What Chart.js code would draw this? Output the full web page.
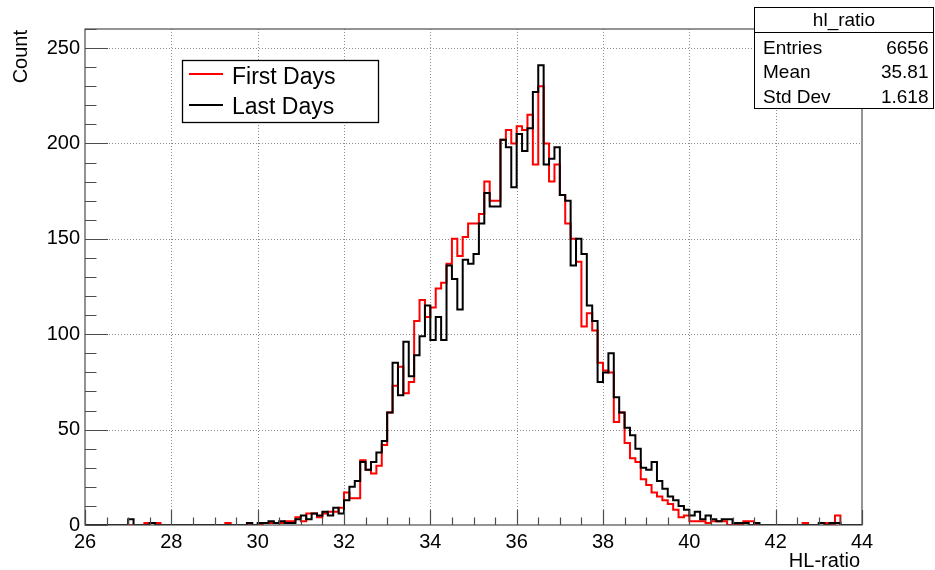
<!DOCTYPE html>
<html>
<head>
<meta charset="utf-8">
<title>hl_ratio</title>
<script src="https://cdn.jsdelivr.net/npm/chart.js@4/dist/chart.umd.min.js"></script>
<style>
  html, body { margin: 0; padding: 0; background: #ffffff; }
  #wrap { width: 935px; height: 570px; position: relative; }
</style>
</head>
<body>
<div id="wrap"><canvas id="c" width="935" height="570"></canvas></div>
<script>
// Histogram binning: 144 bins of width 0.125 from 26 to 44
const binLow = 26;
const binWidth = 0.125;

// Bin contents, First Days (red)
const firstDays = [
  0, 0, 0, 0, 0, 0, 0, 0, 0, 0,
  0, 1, 1, 1, 0, 0, 0, 0, 0, 0,
  0, 0, 0, 0, 0, 0, 1, 0, 0, 0,
  0, 0, 0, 1, 1, 1, 1, 2, 2, 4,
  2, 6, 6, 4, 6, 7, 7, 9, 17, 14,
  14, 34, 29, 27, 31, 42, 59, 73, 83, 69,
  75, 107, 118, 109, 114, 124, 127, 137, 150, 141,
  151, 158, 158, 163, 180, 170, 170, 202, 207, 200,
  209, 207, 215, 189, 230, 200, 180, 189, 173, 158,
  150, 138, 104, 111, 102, 85, 81, 80, 54, 59,
  43, 35, 33, 24, 21, 17, 15, 13, 11, 8,
  4, 5, 2, 2, 2, 1, 2, 2, 2, 0,
  0, 0, 2, 2, 0, 0, 0, 0, 0, 0,
  0, 0, 0, 1, 0, 0, 1, 1, 0, 5,
  0, 0, 0, 0
];

// Bin contents, Last Days (black)
const lastDays = [
  0, 0, 0, 0, 0, 0, 0, 0, 3, 0,
  0, 0, 1, 0, 0, 0, 0, 0, 0, 0,
  0, 0, 0, 0, 0, 0, 0, 0, 0, 0,
  1, 0, 1, 1, 2, 1, 2, 1, 1, 3,
  5, 3, 6, 5, 7, 5, 9, 6, 13, 20,
  23, 33, 29, 33, 38, 44, 59, 85, 68, 96,
  78, 89, 99, 115, 97, 109, 97, 136, 129, 113,
  139, 137, 142, 158, 174, 167, 167, 202, 198, 177,
  205, 196, 208, 227, 241, 189, 192, 198, 173, 170,
  136, 150, 142, 115, 107, 75, 80, 90, 67, 59,
  51, 47, 40, 30, 29, 33, 23, 19, 15, 13,
  10, 8, 5, 7, 3, 5, 3, 2, 3, 3,
  1, 1, 1, 0, 1, 0, 0, 0, 0, 0,
  0, 0, 0, 0, 0, 0, 1, 0, 1, 1,
  0, 0, 0, 0
];

const seriesNames = ['First Days', 'Last Days'];
const seriesColors = ['#ff0000', '#000000'];

// Axis ranges and labelled ticks
const xRange = [26, 44];
const yRange = [0, 260];
const xTickValues = [26, 28, 30, 32, 34, 36, 38, 40, 42, 44];
const yTickValues = [0, 50, 100, 150, 200, 250];
const xMinorStep = 0.5;
const yMinorStep = 10;
const xTitle = 'HL-ratio';
const yTitle = 'Count';

// Statistics panel
const statsTitle = 'hl_ratio';
const statsLabels = ['Entries', 'Mean', 'Std Dev'];
const statsValues = ['6656', '35.81', '1.618'];

const FONT = '"Liberation Sans", Arial, Helvetica, sans-serif';

// Turn bin contents into an outline: a flat top across each bin, vertical steps between bins
function outline(counts) {
  const pts = [{ x: binLow, y: 0 }];
  counts.forEach((c, i) => {
    const lo = binLow + i * binWidth;
    pts.push({ x: lo, y: c }, { x: lo + binWidth, y: c });
  });
  pts.push({ x: binLow + counts.length * binWidth, y: 0 });
  return pts;
}

// Frame, dotted grid, inward tick marks, titles, legend box and stats panel
const rootStyle = {
  id: 'rootStyle',
  beforeDatasetsDraw(chart) {
    const { ctx, chartArea: a, scales: { x, y } } = chart;
    ctx.save();
    ctx.strokeStyle = '#8a8a8a';
    ctx.lineWidth = 1;
    ctx.setLineDash([1, 2]);
    xTickValues.forEach(v => {
      if (v === xRange[0] || v === xRange[1]) return;
      const px = Math.round(x.getPixelForValue(v)) + 0.5;
      ctx.beginPath(); ctx.moveTo(px, a.top); ctx.lineTo(px, a.bottom); ctx.stroke();
    });
    yTickValues.forEach(v => {
      if (v === yRange[0]) return;
      const py = Math.round(y.getPixelForValue(v)) + 0.5;
      ctx.beginPath(); ctx.moveTo(a.left, py); ctx.lineTo(a.right, py); ctx.stroke();
    });
    ctx.restore();
  },
  afterDatasetsDraw(chart) {
    const { ctx, chartArea: a, scales: { x, y } } = chart;
    ctx.save();
    // frame
    ctx.strokeStyle = '#4d4d4d';
    ctx.lineWidth = 1.2;
    ctx.strokeRect(a.left, a.top, a.right - a.left, a.bottom - a.top);

    // ticks pointing into the frame
    const xMajor = 15, xMinor = 7.5, yMajor = 23, yMinor = 11.5;
    ctx.beginPath();
    for (let v = xRange[0]; v <= xRange[1] + 1e-9; v += xMinorStep) {
      const px = Math.round(x.getPixelForValue(v)) + 0.5;
      const len = xTickValues.includes(Math.round(v * 1000) / 1000) ? xMajor : xMinor;
      ctx.moveTo(px, a.bottom); ctx.lineTo(px, a.bottom - len);
    }
    for (let v = yRange[0]; v <= yRange[1] + 1e-9; v += yMinorStep) {
      const py = Math.round(y.getPixelForValue(v)) + 0.5;
      const len = yTickValues.includes(v) ? yMajor : yMinor;
      ctx.moveTo(a.left, py); ctx.lineTo(a.left + len, py);
    }
    ctx.stroke();

    // axis titles
    ctx.fillStyle = '#000';
    ctx.font = '20px ' + FONT;
    ctx.textAlign = 'right';
    ctx.textBaseline = 'alphabetic';
    ctx.fillText(xTitle, a.right - 2, 566.5);
    ctx.save();
    ctx.translate(27, a.top + 1);
    ctx.rotate(-Math.PI / 2);
    ctx.textAlign = 'right';
    ctx.fillText(yTitle, 0, 0);
    ctx.restore();

    // legend box
    const lg = { x: 182, y: 60, w: 196, h: 62 };
    ctx.fillStyle = '#fff';
    ctx.fillRect(lg.x, lg.y, lg.w, lg.h);
    ctx.strokeStyle = '#000';
    ctx.lineWidth = 1.3;
    ctx.strokeRect(lg.x + 0.5, lg.y + 0.5, lg.w, lg.h);
    const rows = [74, 105];
    const bases = [83.5, 113.5];
    ctx.font = '23px ' + FONT;
    ctx.textAlign = 'left';
    seriesNames.forEach((name, i) => {
      ctx.strokeStyle = seriesColors[i];
      ctx.lineWidth = 2;
      ctx.beginPath(); ctx.moveTo(189, rows[i]); ctx.lineTo(223, rows[i]); ctx.stroke();
      ctx.fillStyle = '#000';
      ctx.fillText(name, 232, bases[i]);
    });

    // statistics panel
    const sb = { x: 754, y: 7, w: 180, h: 101 };
    ctx.fillStyle = '#fff';
    ctx.fillRect(sb.x, sb.y, sb.w, sb.h);
    ctx.strokeStyle = '#000';
    ctx.lineWidth = 1;
    ctx.strokeRect(sb.x + 0.5, sb.y + 0.5, sb.w - 1, sb.h);
    ctx.beginPath(); ctx.moveTo(sb.x, 32.5); ctx.lineTo(sb.x + sb.w, 32.5); ctx.stroke();
    ctx.fillStyle = '#000';
    ctx.font = '19px ' + FONT;
    ctx.textAlign = 'center';
    ctx.fillText(statsTitle, sb.x + sb.w / 2, 26);
    const statBase = [53.5, 78, 102.5];
    statsLabels.forEach((lab, i) => {
      ctx.textAlign = 'left';
      ctx.fillText(lab, 763, statBase[i]);
      ctx.textAlign = 'right';
      ctx.fillText(statsValues[i], 928.5, statBase[i]);
    });
    ctx.restore();
  }
};

new Chart(document.getElementById('c'), {
  type: 'line',
  data: {
    datasets: [
      { label: seriesNames[0], data: outline(firstDays), borderColor: seriesColors[0],
        borderWidth: 2, pointRadius: 0, fill: false, tension: 0, order: 2 },
      { label: seriesNames[1], data: outline(lastDays), borderColor: seriesColors[1],
        borderWidth: 2, pointRadius: 0, fill: false, tension: 0, order: 1 }
    ]
  },
  options: {
    responsive: false,
    animation: false,
    devicePixelRatio: 1,
    layout: { padding: { top: 29, right: 73, left: 0, bottom: 0 } },
    plugins: { legend: { display: false }, tooltip: { enabled: false } },
    scales: {
      x: {
        type: 'linear', min: xRange[0], max: xRange[1],
        grid: { display: false, drawTicks: false },
        border: { display: false },
        ticks: { stepSize: 2, padding: 5, color: '#000', maxRotation: 0, autoSkip: false,
                 font: { family: FONT, size: 20 } },
        afterFit(s) { s.height = 45; }
      },
      y: {
        type: 'linear', min: yRange[0], max: yRange[1],
        grid: { display: false, drawTicks: false },
        border: { display: false },
        ticks: { stepSize: 50, includeBounds: false, padding: 5, color: '#000',
                 font: { family: FONT, size: 20 } },
        afterFit(s) { s.width = 85; }
      }
    }
  },
  plugins: [rootStyle]
});
</script>
</body>
</html>
